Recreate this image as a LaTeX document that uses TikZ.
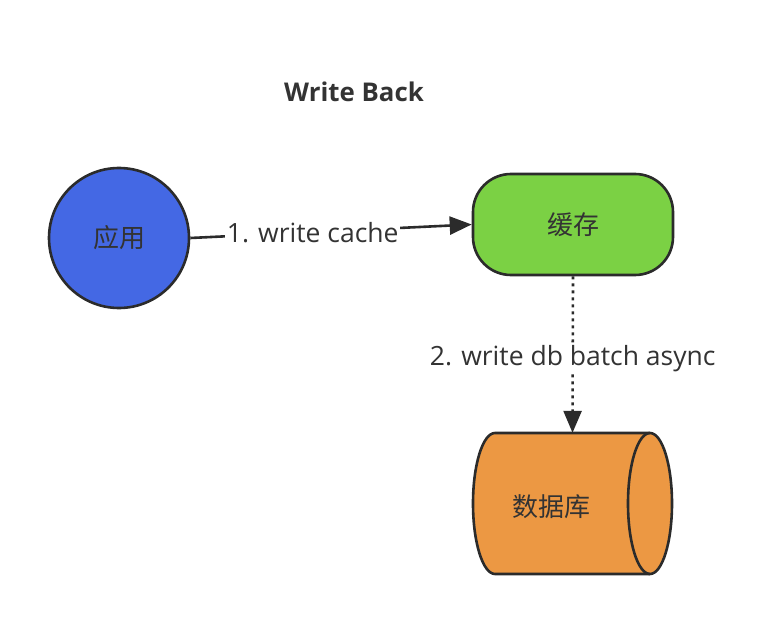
\documentclass[tikz,border=0pt]{standalone}
\usepackage{fontspec}
\setmainfont{Open Sans}
\newfontfamily\cjk{Noto Sans CJK SC}
\usetikzlibrary{arrows.meta}
\definecolor{ink}{HTML}{333333}
\definecolor{edgeink}{HTML}{2B2B2B}
\definecolor{appblue}{HTML}{4468E4}
\definecolor{cachegreen}{HTML}{7BD144}
\definecolor{dborange}{HTML}{EC9843}
\tikzset{
  shapebox/.style={draw=edgeink, line width=2.6pt, text=ink, inner sep=0pt,
    font=\cjk\fontsize{26}{30}\selectfont},
  shapetext/.style={text=ink, inner sep=0pt, font=\cjk\fontsize{26}{30}\selectfont},
  flow/.style={draw=edgeink, line width=2.6pt,
    -{Triangle[length=22pt,width=18pt]}},
  flowlabel/.style={fill=white, text=ink, inner sep=1.5pt,
    font=\fontsize{26.5}{30}\selectfont},
}
\begin{document}
\begin{tikzpicture}[x=1pt,y=-1pt]
  \useasboundingbox (0,0) rectangle (766,623);
  % title
  \node[text=ink, font=\bfseries\fontsize{25.8}{30}\selectfont] (title) at (354,92) {Write Back};
  % application and cache
  \node[shapebox, circle, fill=appblue, minimum size=140pt] (app) at (119,238) {应用};
  \node[shapebox, rectangle, rounded corners=38pt, fill=cachegreen,
        minimum width=200pt, minimum height=101pt] (cache) at (573,224.5) {缓存};
  % database: horizontal cylinder, open end on the right
  \node[inner sep=0pt, minimum width=199pt, minimum height=141pt] (db) at (572.5,503.5) {};
  \filldraw[fill=dborange, draw=edgeink, line width=2.6pt, line join=round]
    (495,433) -- (650,433) arc (-90:90:22 and 70.5) -- (495,574)
    arc (90:270:22 and 70.5) -- cycle;
  \draw[edgeink, line width=2.6pt] (650,433) arc (270:90:22 and 70.5);
  \node[shapetext] (dblabel) at (551,507) {数据库};
  % connectors
  \draw[flow] (app.east) -- node[flowlabel, pos=0.435] {1. write cache} (cache.west);
  \draw[flow, dash pattern=on 3pt off 4pt] (cache.south) --
        node[flowlabel, pos=0.525] {2. write db batch async} (db.north);
\end{tikzpicture}
\end{document}
